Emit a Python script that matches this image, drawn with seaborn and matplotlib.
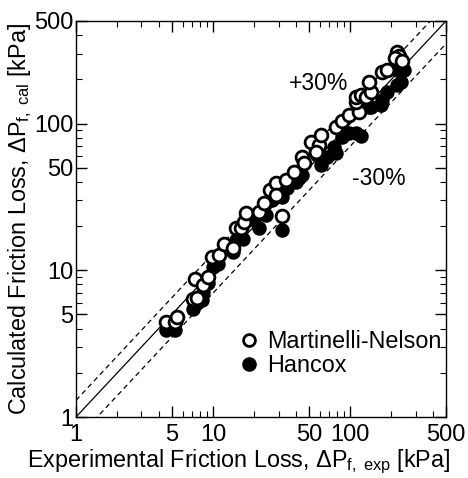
import numpy as np
import pandas as pd
import seaborn as sns
import matplotlib
matplotlib.use("Agg")
import matplotlib.pyplot as plt
from matplotlib.ticker import FixedLocator, NullFormatter, FixedFormatter
from matplotlib.lines import Line2D

# Martinelli-Nelson (open circles)
mn_exp = [4.52, 5.25, 5.43, 7.10, 7.59, 7.34, 8.39, 9.12, 9.75, 11.1, 12.1, 13.9,
          14.8, 16.1, 16.9, 17.5, 21.8, 23.7, 25.8, 29.0, 29.0, 32.0, 34.2, 39.2,
          44.8, 46.3, 52.0, 59.5, 56.6, 61.5, 79.1, 87.5, 98.3, 116, 111, 111,
          120, 131, 142, 137, 171, 186, 220, 227, 213, 239]
mn_cal = [4.44, 4.44, 4.80, 6.37, 6.47, 8.72, 7.94, 9.00, 12.3, 12.7, 15.1, 14.2,
          19.4, 19.4, 21.3, 24.6, 25.0, 28.8, 35.3, 39.4, 32.6, 23.5, 41.3, 46.8,
          59.2, 53.9, 74.9, 71.5, 64.0, 83.6, 94.8, 104, 114, 120, 140, 152,
          157, 152, 164, 192, 225, 232, 308, 289, 280, 267]

# Hancox (filled circles)
hx_exp = [4.52, 5.25, 4.99, 7.10, 7.59, 8.39, 8.25, 9.12, 9.92, 10.8, 13.9, 16.4,
          14.8, 21.8, 23.7, 24.5, 27.1, 32.0, 34.8, 40.5, 44.8, 32.0, 57.5, 61.5,
          68.0, 76.5, 79.1, 87.5, 98.3, 111, 120, 137, 142, 171, 186, 168, 220,
          235, 220, 247, 42.6, 20.0]
hx_cal = [3.92, 3.92, 4.11, 5.45, 5.99, 7.11, 6.28, 8.19, 10.5, 11.0, 13.3, 16.3,
          16.1, 19.4, 24.6, 23.8, 30.1, 31.6, 36.4, 40.0, 44.6, 18.8, 61.1, 52.2,
          59.2, 69.2, 63.0, 81.0, 86.3, 86.3, 82.3, 130, 130, 145, 164, 134, 183,
          192, 232, 232, 42.6, 22.0]

line_x = [1, 500]
ratios = [1.0, 1.3, 0.7]
major_ticks = [1, 5, 10, 50, 100, 500]
tick_labels = ["1", "5", "10", "50", "100", "500"]

sns.set_theme(style="white")
plt.rcParams['font.family'] = ['Liberation Sans', 'DejaVu Sans']
plt.rcParams['mathtext.fontset'] = 'custom'
plt.rcParams['mathtext.rm'] = 'Liberation Sans'
plt.rcParams['mathtext.it'] = 'Liberation Sans:italic'
plt.rcParams['text.color'] = 'black'
plt.rcParams['axes.labelcolor'] = 'black'
plt.rcParams['xtick.color'] = 'black'
plt.rcParams['ytick.color'] = 'black'

fig = plt.figure(figsize=(4.68, 4.78), dpi=100)
ax = fig.add_axes([0.1624, 0.1276, 0.7906, 0.8285])

for r in ratios:
    ax.plot(line_x, [v * r for v in line_x], color='black',
            lw=0.9, ls='-' if r == 1.0 else (0, (4, 3)))

df_h = pd.DataFrame({'x': hx_exp, 'y': hx_cal})
df_m = pd.DataFrame({'x': mn_exp, 'y': mn_cal})
sns.scatterplot(data=df_h, x='x', y='y', ax=ax, marker='o', s=85,
                color='black', edgecolor='black', linewidth=1.2, zorder=3)
sns.scatterplot(data=df_m, x='x', y='y', ax=ax, marker='o', s=85,
                facecolor='white', edgecolor='black', linewidth=2.0, zorder=4)

ax.set_xscale('log')
ax.set_yscale('log')
ax.set_xlim(1, 500)
ax.set_ylim(1, 500)

minor = [d * k for d in (1, 10, 100) for k in range(2, 10)]
minor = [v for v in minor if v <= 500 and v not in major_ticks]
for axis in (ax.xaxis, ax.yaxis):
    axis.set_major_locator(FixedLocator(major_ticks))
    axis.set_major_formatter(FixedFormatter(tick_labels))
    axis.set_minor_locator(FixedLocator(minor))
    axis.set_minor_formatter(NullFormatter())

ax.tick_params(which='both', direction='in', top=True, right=True,
               bottom=True, left=True, colors='black', labelsize=17)
ax.tick_params(which='major', length=8, width=1.0)
ax.tick_params(axis='x', which='major', pad=5)
ax.tick_params(axis='y', which='major', pad=2)
ax.tick_params(which='minor', length=4, width=0.8)
for sp in ax.spines.values():
    sp.set_color('black')
    sp.set_linewidth(1.0)

ax.set_xlabel(r'Experimental Friction Loss, $\Delta$P$_{\rm f,\ exp}$ [kPa]', fontsize=16.8, labelpad=1)
ax.xaxis.label.set_x(0.44)
ax.set_ylabel(r'Calculated Friction Loss, $\Delta$P$_{\rm f,\ cal}$ [kPa]', fontsize=16.8, labelpad=0)

ax.text(0.575, 0.825, '+30%', transform=ax.transAxes, fontsize=16.5)
ax.text(0.745, 0.585, '-30%', transform=ax.transAxes, fontsize=16.5)

handles = [Line2D([], [], marker='o', ls='', markerfacecolor='white', markeredgecolor='black',
                  markeredgewidth=2.0, markersize=8.5),
           Line2D([], [], marker='o', ls='', markerfacecolor='black', markeredgecolor='black',
                  markersize=9.5)]
ax.legend(handles, ['Martinelli-Nelson', 'Hancox'], loc='lower right', frameon=False,
          fontsize=16.8, handletextpad=0.25, labelspacing=0.05, borderaxespad=0.2,
          bbox_to_anchor=(1.025, 0.065), handlelength=1.0)

fig.savefig('out.png', dpi=100)
